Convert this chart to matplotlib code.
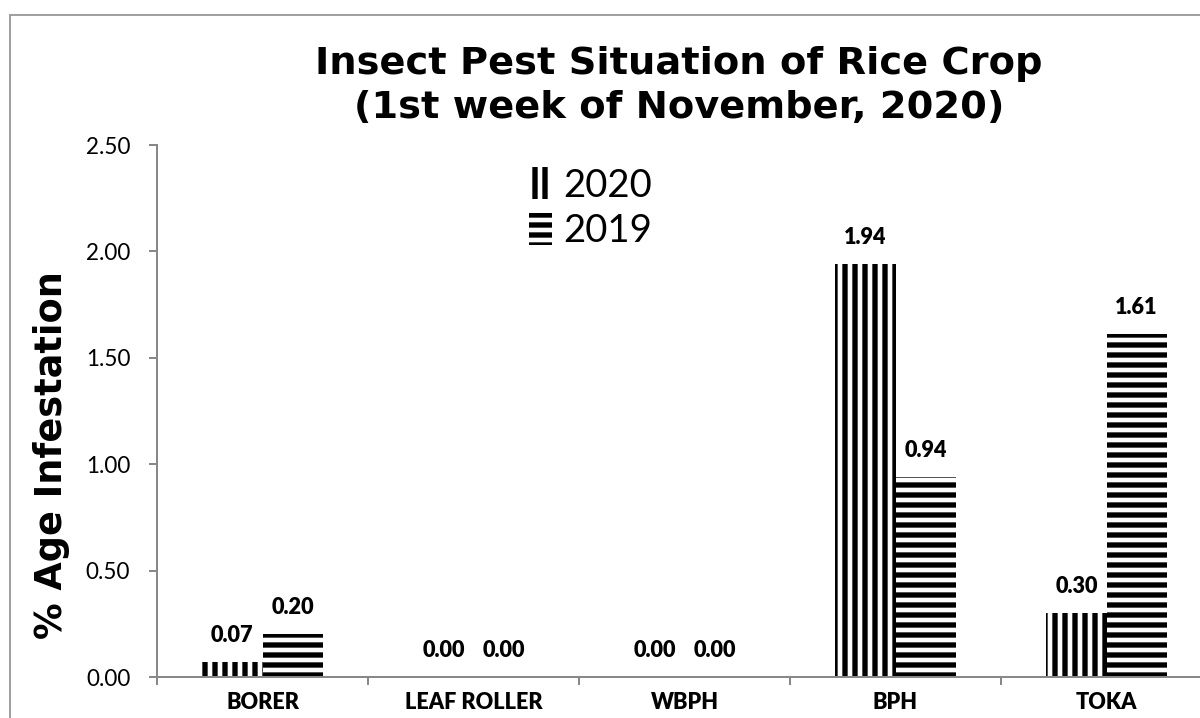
import numpy as np
import matplotlib
matplotlib.use('Agg')
import matplotlib.pyplot as plt
from matplotlib.patches import Rectangle

pests = ['BORER', 'LEAF ROLLER', 'WBPH', 'BPH', 'TOKA']
vals_2020 = [0.07, 0.00, 0.00, 1.94, 0.30]
vals_2019 = [0.20, 0.00, 0.00, 0.94, 1.61]
y_ticks = [0.0, 0.5, 1.0, 1.5, 2.0, 2.5]

plt.rcParams['hatch.linewidth'] = 3.2
plt.rcParams['font.family'] = ['Lato', 'DejaVu Sans']

fig = plt.figure(figsize=(10, 718 / 120), dpi=120)
ax = fig.add_axes([157 / 1200, 41 / 718, 1055 / 1200, 532 / 718])

# outer chart border (right and bottom fall outside the picture)
fig.patches.append(Rectangle((10 / 1200, -0.2), 1.2, 1.2 - 15 / 718,
                             transform=fig.transFigure, fill=False,
                             edgecolor='#a0a0a0', linewidth=1.2))

x = np.arange(len(pests))
w = 0.285
b1 = ax.bar(x - w / 2, vals_2020, w, color='white', edgecolor='black',
            linewidth=0, hatch='||', label='2020')
b2 = ax.bar(x + w / 2, vals_2019, w, color='white', edgecolor='black',
            linewidth=0, hatch='--', label='2019')

for bars, vals in ((b1, vals_2020), (b2, vals_2019)):
    for r, v in zip(bars, vals):
        ax.annotate(f'{v:.2f}', (r.get_x() + r.get_width() / 2, v),
                    xytext=(0, 16), textcoords='offset points',
                    ha='center', va='center', fontsize=13, fontweight='heavy')

ax.set_xlim(-0.5, 4.5)
ax.set_ylim(0, 2.5)
ax.set_yticks(y_ticks)
ax.set_yticklabels([f'{t:.2f}' for t in y_ticks], fontsize=13.5)
ax.set_xticks(x)
ax.set_xticklabels(pests, fontsize=13, fontweight='heavy')
ax.set_xticks(np.arange(-0.5, 5, 1), minor=True)
ax.tick_params(axis='x', which='major', length=0, pad=9)
ax.tick_params(axis='x', which='minor', length=5, color='#888888', width=1.2)
ax.tick_params(axis='y', length=5, color='#888888', width=1.2, pad=11)
for s in ['top', 'right']:
    ax.spines[s].set_visible(False)
for s in ['left', 'bottom']:
    ax.spines[s].set_color('#888888')
    ax.spines[s].set_linewidth(1.2)

ax.set_ylabel('% Age Infestation', fontsize=22, fontweight='bold',
              family='DejaVu Sans')
ax.yaxis.set_label_coords(-0.082, 0.417)

fig.text(679 / 1200, 1 - 86 / 718,
         'Insect Pest Situation of Rice Crop\n(1st week of November, 2020)',
         ha='center', va='center', fontsize=23, fontweight='bold',
         family='DejaVu Sans', linespacing=1.3)

fig.legend(handles=[b1, b2], loc='upper left',
           bbox_to_anchor=(494 / 1200, 1 - 133 / 718), frameon=False,
           fontsize=23, handlelength=0.6, handleheight=0.9,
           handletextpad=0.3, labelspacing=0.25)

fig.savefig('out.png', dpi=120)
